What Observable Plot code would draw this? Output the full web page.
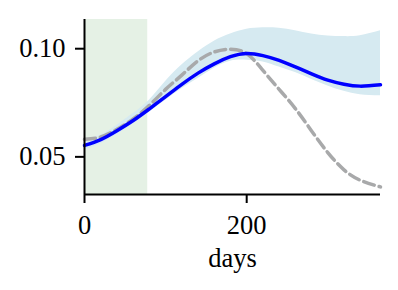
<!DOCTYPE html>
<html>
<head>
<meta charset="utf-8">
<script src="https://cdn.jsdelivr.net/npm/d3@7"></script>
<script src="https://cdn.jsdelivr.net/npm/@observablehq/plot@0.6"></script>
<style>
  html, body { margin: 0; padding: 0; background: #fff; }
  #chart { width: 398px; height: 290px; }
</style>
</head>
<body>
<div id="chart"></div>
<script>
const days       = [0, 20, 40, 60, 80, 100, 120, 140, 160, 180, 200, 220, 240, 260, 280, 300, 320, 340, 365];
const meanSeries = [0.0553, 0.0580, 0.0621, 0.0668, 0.0722, 0.0778, 0.0835, 0.0887, 0.0930, 0.0963, 0.0978, 0.0968, 0.0946, 0.0916, 0.0884, 0.0855, 0.0836, 0.0827, 0.0833];
const bandLower  = [0.0532, 0.0561, 0.0603, 0.0652, 0.0706, 0.0762, 0.0815, 0.0862, 0.0910, 0.0942, 0.0947, 0.0939, 0.0915, 0.0890, 0.0858, 0.0828, 0.0803, 0.0787, 0.0782];
const bandUpper  = [0.0574, 0.0600, 0.0645, 0.0700, 0.0762, 0.0848, 0.0925, 0.0985, 0.1035, 0.1068, 0.1090, 0.1097, 0.1095, 0.1083, 0.1068, 0.1059, 0.1056, 0.1060, 0.1083];
const trueSeries = [0.0581, 0.0592, 0.0627, 0.0675, 0.0738, 0.0812, 0.0878, 0.0944, 0.0985, 0.0998, 0.0977, 0.0900, 0.0812, 0.0723, 0.0620, 0.0520, 0.0440, 0.0392, 0.0361];
const shadeStart = 0;
const shadeEnd = 78;
const xTicks = [0, 200];
const yTicks = [0.05, 0.10];
const xLabel = "days";

const xDomain = [0, 365];
const yDomain = [0.0326, 0.1135];

const rows = days.map((d, i) => ({day: d, mean: meanSeries[i], lo: bandLower[i], hi: bandUpper[i], truth: trueSeries[i]}));
const shade = [{start: shadeStart, end: shadeEnd}];

const font = "'Liberation Serif', 'DejaVu Serif', serif";
const fs = 26.5;

const chart = Plot.plot({
  width: 398,
  height: 290,
  marginLeft: 84,
  marginRight: 18,
  marginTop: 19,
  marginBottom: 96,
  style: {fontFamily: font, fontSize: fs + "px", background: "white", color: "black"},
  x: {domain: xDomain},
  y: {domain: yDomain},
  marks: [
    Plot.rect(shade, {x1: "start", x2: "end", fill: "#e5f1e5"}),
    Plot.areaY(rows, {x: "day", y1: "lo", y2: "hi", fill: "#d6eaf1", curve: "natural"}),
    Plot.line(rows, {x: "day", y: "truth", stroke: "#a8a9aa", strokeWidth: 3.5, strokeDasharray: "11,5", curve: "natural"}),
    Plot.line(rows, {x: "day", y: "mean", stroke: "#0000ff", strokeWidth: 3.5, curve: "natural"}),
    Plot.ruleX([xDomain[0]], {stroke: "black", strokeWidth: 2}),
    Plot.ruleY([yDomain[0]], {stroke: "black", strokeWidth: 2}),
    Plot.axisX({ticks: xTicks, tickFormat: "d", tickSize: 9, tickPadding: 12, fontSize: fs, label: null, strokeWidth: 2}),
    Plot.axisY({ticks: yTicks, tickFormat: ".2f", tickSize: 9, tickPadding: 10, fontSize: fs, label: null, strokeWidth: 2}),
    Plot.text([xLabel], {frameAnchor: "bottom", dy: 72, fontSize: fs, text: d => d})
  ]
});
document.getElementById("chart").appendChild(chart);
</script>
</body>
</html>
